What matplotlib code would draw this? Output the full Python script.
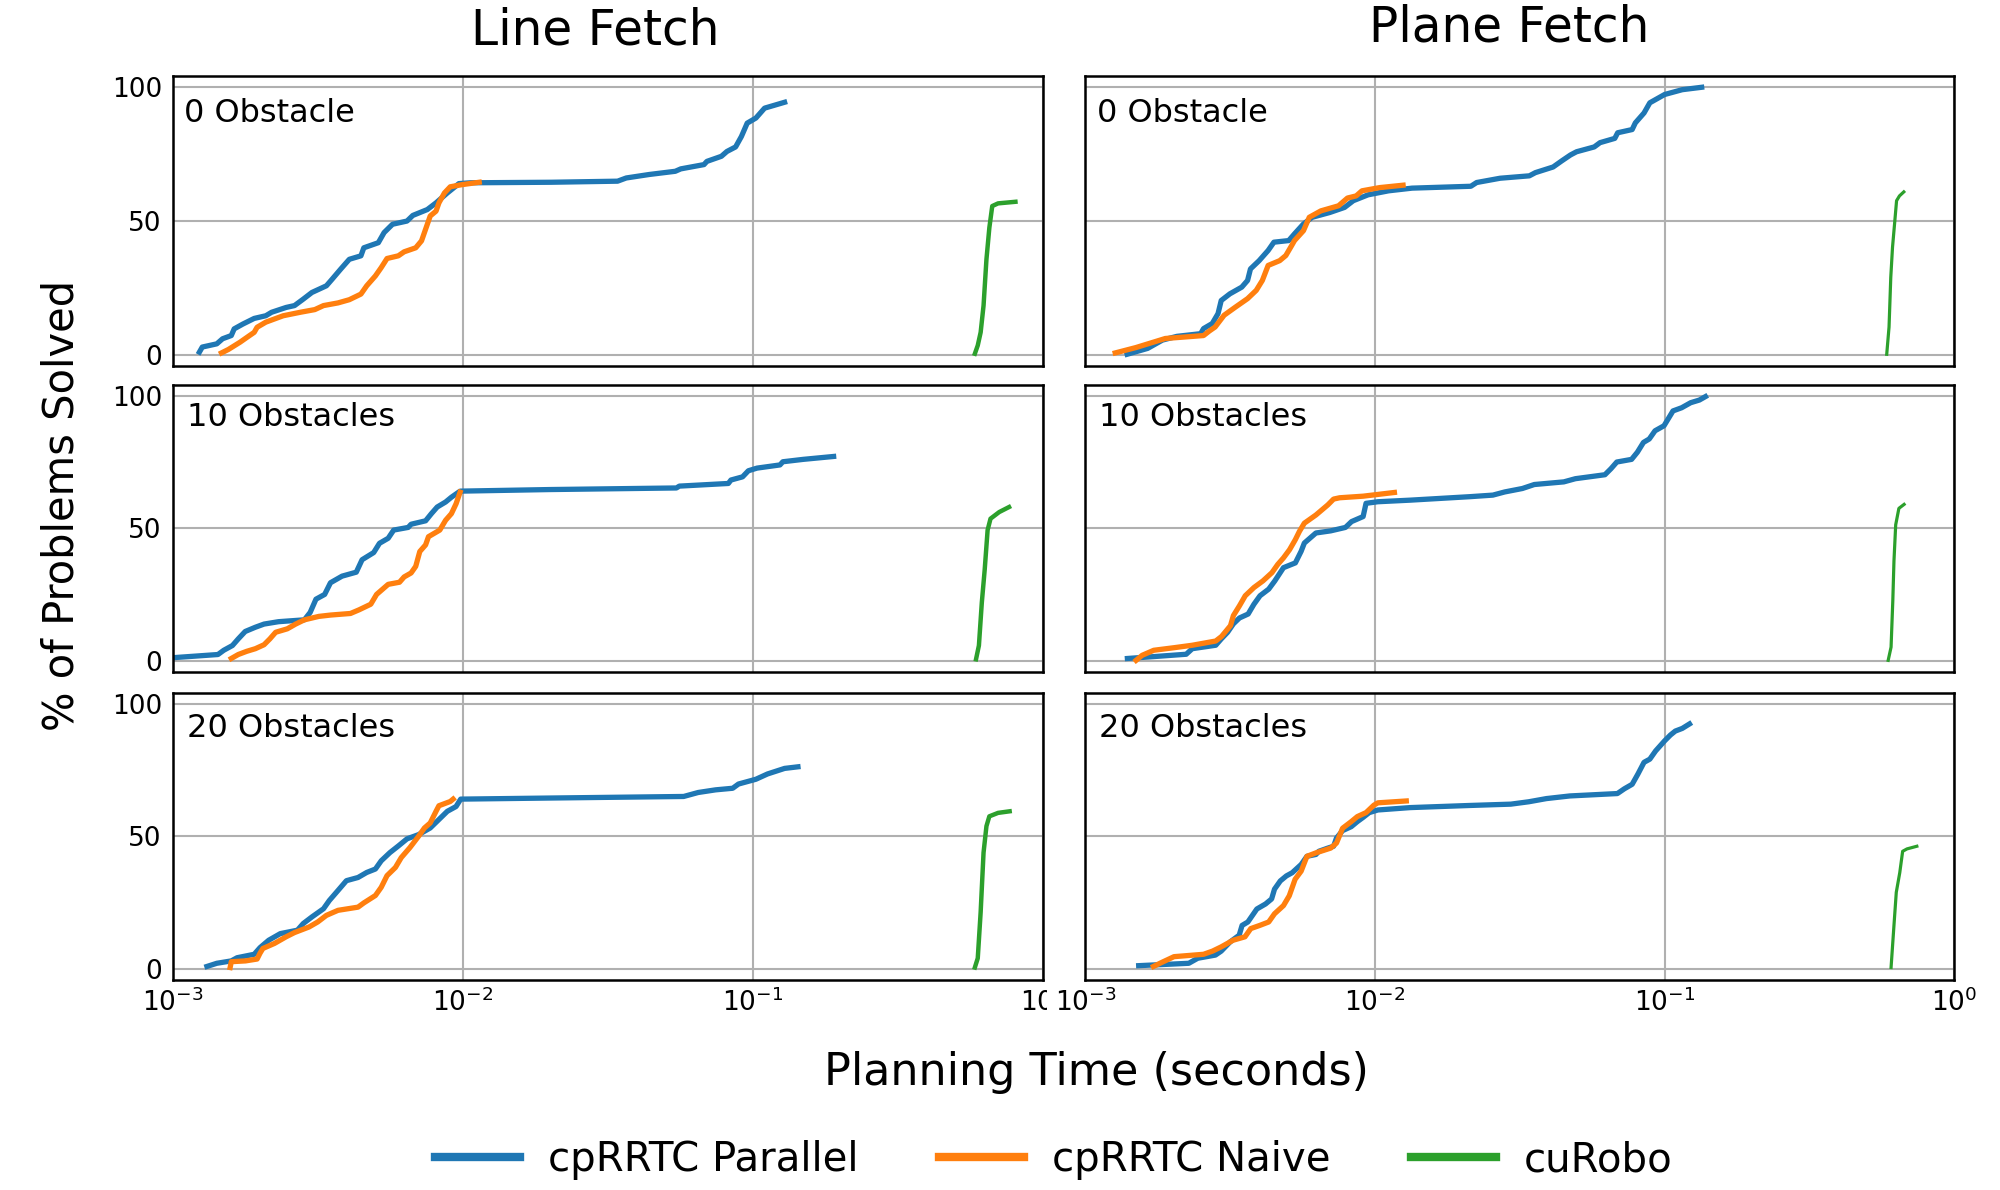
import numpy as np
import matplotlib
matplotlib.use("Agg")
import matplotlib.pyplot as plt
from matplotlib.transforms import Bbox

# times are stored as log10(seconds); values are % solved
line0_par_logt = [-2.909, -2.899, -2.849, -2.829, -2.799, -2.789, -2.759, -2.720, -2.680, -2.660,
                  -2.610, -2.581, -2.551, -2.521, -2.471, -2.451, -2.422, -2.392, -2.352, -2.342,
                  -2.292, -2.272, -2.243, -2.193, -2.173, -2.123, -2.093, -2.054, -2.014, -1.974,
                  -1.696, -1.467, -1.437, -1.358, -1.268, -1.249, -1.169, -1.159, -1.109, -1.090,
                  -1.060, -1.040, -1.020, -0.990, -0.960, -0.891]
line0_par_pct = [1.0, 2.9, 4.1, 6.0, 7.2, 9.7, 11.5, 13.6, 14.6, 15.9,
                 17.7, 18.4, 20.8, 23.3, 25.8, 28.3, 32.0, 35.7, 37.0, 40.0,
                 41.9, 45.7, 48.8, 50.0, 52.1, 54.3, 56.8, 60.5, 64.0, 64.3,
                 64.5, 64.9, 66.1, 67.4, 68.6, 69.5, 71.1, 72.3, 74.2, 76.0,
                 77.7, 81.6, 86.6, 88.5, 92.2, 94.4]
line0_nai_logt = [-2.833, -2.809, -2.769, -2.740, -2.720, -2.710, -2.680, -2.650, -2.620, -2.561,
                  -2.511, -2.481, -2.431, -2.392, -2.352, -2.332, -2.302, -2.282, -2.262, -2.223,
                  -2.203, -2.163, -2.143, -2.133, -2.113, -2.093, -2.083, -2.064, -2.044, -2.004, -1.944]
line0_nai_pct = [0.7, 2.0, 4.7, 6.9, 8.4, 10.3, 12.2, 13.4, 14.6, 15.9,
                 16.9, 18.4, 19.4, 20.6, 22.7, 25.8, 29.5, 32.6, 36.0, 37.0,
                 38.5, 40.0, 42.6, 45.7, 51.9, 53.7, 56.8, 60.5, 62.8, 63.6, 64.5]
line0_cur_logt = [-0.235, -0.225, -0.215, -0.205, -0.195, -0.185, -0.175, -0.155, -0.095]
line0_cur_pct = [0.4, 3.5, 8.4, 18.4, 35.7, 47.5, 55.6, 56.6, 57.2]

plane0_par_logt = [-2.856, -2.785, -2.734, -2.684, -2.602, -2.592, -2.562, -2.542, -2.531, -2.501,
                   -2.460, -2.440, -2.430, -2.400, -2.369, -2.349, -2.298, -2.278, -2.247, -2.217,
                   -2.156, -2.105, -2.075, -2.024, -1.953, -1.872, -1.669, -1.649, -1.568, -1.467,
                   -1.446, -1.385, -1.355, -1.325, -1.304, -1.243, -1.223, -1.172, -1.162, -1.112,
                   -1.101, -1.071, -1.051, -1.000, -0.939, -0.872]
plane0_par_pct = [0.2, 2.4, 5.5, 6.9, 7.9, 9.8, 11.7, 15.4, 20.3, 22.8,
                  25.3, 27.8, 32.1, 35.2, 39.0, 42.1, 42.7, 45.2, 48.9, 51.4,
                  53.2, 55.1, 57.6, 59.8, 61.3, 62.3, 63.0, 64.4, 66.0, 66.9,
                  68.1, 70.2, 72.5, 74.7, 75.9, 77.7, 79.3, 80.9, 83.0, 84.2,
                  86.7, 90.4, 94.2, 97.3, 99.1, 100.0]
plane0_nai_logt = [-2.897, -2.826, -2.724, -2.592, -2.572, -2.552, -2.521, -2.481, -2.440, -2.410,
                   -2.389, -2.369, -2.329, -2.308, -2.288, -2.278, -2.247, -2.227, -2.187, -2.126,
                   -2.095, -2.065, -2.045, -1.984, -1.903]
plane0_nai_pct = [0.7, 2.7, 6.1, 7.2, 8.9, 10.4, 14.8, 17.9, 21.0, 24.1,
                  27.8, 33.4, 35.2, 37.1, 40.8, 42.7, 46.4, 51.4, 53.8, 55.7,
                  58.6, 59.4, 61.3, 62.5, 63.4]
plane0_cur_logt = [-0.233, -0.225, -0.219, -0.213, -0.205, -0.199, -0.189, -0.174]
plane0_cur_pct = [0.2, 10.4, 29.0, 40.2, 50.1, 57.6, 59.4, 60.9]

line10_par_logt = [-3.0, -2.845, -2.825, -2.795, -2.775, -2.751, -2.716, -2.686, -2.636, -2.547,
                   -2.527, -2.507, -2.477, -2.457, -2.417, -2.368, -2.348, -2.308, -2.288, -2.258,
                   -2.239, -2.189, -2.179, -2.129, -2.109, -2.089, -2.060, -2.040, -2.010, -1.702,
                   -1.264, -1.254, -1.085, -1.076, -1.036, -1.016, -0.986, -0.907, -0.897, -0.827, -0.722]
line10_par_pct = [1.2, 2.4, 4.0, 5.8, 8.3, 11.1, 12.7, 13.9, 14.8, 15.5,
                  18.3, 23.3, 25.1, 29.5, 32.0, 33.5, 38.2, 40.9, 44.4, 46.3,
                  49.4, 50.4, 51.6, 52.9, 55.6, 58.1, 60.0, 61.8, 64.1, 64.7,
                  65.3, 66.0, 67.0, 68.3, 69.5, 71.8, 72.8, 74.0, 75.2, 76.1, 77.2]
line10_nai_logt = [-2.799, -2.775, -2.746, -2.716, -2.686, -2.666, -2.646, -2.606, -2.577, -2.547,
                   -2.497, -2.457, -2.388, -2.358, -2.318, -2.298, -2.278, -2.258, -2.219, -2.203,
                   -2.179, -2.163, -2.149, -2.129, -2.119, -2.080, -2.060, -2.040, -2.024, -2.010]
line10_nai_pct = [0.9, 2.4, 3.6, 4.6, 6.1, 8.3, 10.8, 12.1, 13.9, 15.5,
                  16.8, 17.3, 17.9, 19.3, 21.4, 25.1, 27.0, 28.9, 29.7, 31.7,
                  33.2, 35.7, 41.3, 43.8, 46.9, 49.4, 53.1, 55.6, 59.3, 63.7]
line10_cur_logt = [-0.231, -0.221, -0.211, -0.201, -0.191, -0.181, -0.151, -0.117]
line10_cur_pct = [0.6, 5.8, 22.0, 34.5, 49.4, 53.7, 56.2, 58.1]

plane10_par_logt = [-2.855, -2.652, -2.631, -2.550, -2.530, -2.509, -2.489, -2.468, -2.438, -2.418,
                    -2.397, -2.367, -2.346, -2.316, -2.275, -2.255, -2.244, -2.204, -2.153, -2.102,
                    -2.081, -2.041, -2.031, -1.990, -1.878, -1.674, -1.593, -1.552, -1.491, -1.450,
                    -1.348, -1.308, -1.206, -1.185, -1.165, -1.114, -1.094, -1.073, -1.053, -1.033,
                    -1.002, -0.971, -0.941, -0.910, -0.880, -0.859]
plane10_par_pct = [0.9, 2.5, 4.6, 5.9, 8.4, 10.8, 14.0, 16.2, 17.7, 21.4,
                   24.6, 27.1, 30.2, 35.2, 37.0, 41.4, 44.5, 48.3, 49.1, 50.4,
                   52.6, 54.5, 59.5, 60.1, 60.7, 62.0, 62.6, 63.8, 65.1, 66.6,
                   67.6, 68.8, 70.3, 72.6, 75.1, 76.1, 78.8, 82.5, 83.8, 86.9,
                   88.8, 94.4, 95.6, 97.5, 98.5, 99.8]
plane10_nai_logt = [-2.825, -2.804, -2.764, -2.692, -2.631, -2.550, -2.530, -2.499, -2.489, -2.468,
                    -2.448, -2.418, -2.387, -2.356, -2.336, -2.316, -2.295, -2.275, -2.261, -2.244,
                    -2.204, -2.163, -2.143, -2.122, -2.041, -1.933]
plane10_nai_pct = [0.2, 2.1, 4.0, 5.0, 5.9, 7.5, 9.2, 13.3, 17.1, 20.8,
                   24.6, 27.7, 30.2, 33.3, 36.4, 38.9, 42.0, 45.8, 48.9, 52.0,
                   55.1, 58.9, 61.1, 61.6, 62.2, 63.6]
plane10_cur_logt = [-0.228, -0.218, -0.212, -0.208, -0.202, -0.191, -0.173]
plane10_cur_pct = [0.2, 5.2, 22.7, 37.7, 51.4, 57.6, 59.1]

line20_par_logt = [-2.883, -2.849, -2.799, -2.779, -2.720, -2.700, -2.670, -2.630, -2.571, -2.551,
                   -2.521, -2.481, -2.461, -2.431, -2.402, -2.362, -2.332, -2.302, -2.282, -2.252,
                   -2.223, -2.193, -2.153, -2.113, -2.083, -2.054, -2.024, -2.008, -1.706, -1.239,
                   -1.189, -1.129, -1.070, -1.050, -0.990, -0.950, -0.891, -0.845]
line20_par_pct = [0.9, 2.1, 3.0, 4.2, 5.5, 8.0, 10.8, 13.3, 14.6, 17.1,
                  19.6, 22.7, 25.8, 29.6, 33.3, 34.5, 36.4, 37.7, 40.8, 43.9,
                  46.4, 49.1, 50.7, 53.2, 56.4, 59.5, 61.3, 64.1, 64.5, 65.1,
                  66.6, 67.6, 68.2, 69.8, 71.6, 73.6, 75.7, 76.3]
line20_nai_logt = [-2.803, -2.799, -2.750, -2.710, -2.700, -2.690, -2.650, -2.610, -2.581, -2.531,
                   -2.501, -2.471, -2.431, -2.362, -2.342, -2.302, -2.282, -2.262, -2.233, -2.213,
                   -2.183, -2.153, -2.133, -2.113, -2.093, -2.083, -2.044, -2.034]
line20_nai_pct = [0.5, 2.7, 3.0, 3.7, 5.9, 7.7, 9.6, 12.1, 13.7, 15.8,
                  17.7, 20.2, 22.1, 23.3, 24.9, 27.7, 30.8, 35.2, 38.3, 42.0,
                  45.8, 50.1, 53.2, 55.1, 59.5, 61.6, 63.2, 64.1]
line20_cur_logt = [-0.235, -0.225, -0.215, -0.205, -0.195, -0.185, -0.155, -0.115]
line20_cur_pct = [0.5, 4.0, 21.4, 43.9, 53.9, 57.6, 58.9, 59.5]

plane20_par_logt = [-2.816, -2.643, -2.612, -2.551, -2.531, -2.500, -2.469, -2.459, -2.439, -2.408,
                    -2.378, -2.357, -2.347, -2.327, -2.306, -2.286, -2.255, -2.235, -2.204, -2.194,
                    -2.163, -2.143, -2.133, -2.112, -2.082, -2.061, -2.041, -2.020, -1.990, -1.878,
                    -1.673, -1.531, -1.469, -1.408, -1.327, -1.163, -1.139, -1.112, -1.092, -1.071,
                    -1.051, -1.031, -1.000, -0.980, -0.963, -0.939, -0.914]
plane20_par_pct = [1.2, 2.1, 4.0, 5.2, 6.7, 10.2, 12.7, 16.4, 17.7, 22.6,
                   24.5, 26.4, 30.1, 33.2, 35.1, 36.3, 39.4, 42.5, 43.2, 44.4,
                   45.6, 46.3, 49.4, 52.2, 53.7, 55.6, 57.2, 59.0, 60.0, 60.9,
                   61.7, 62.2, 63.1, 64.3, 65.3, 66.2, 68.0, 69.7, 73.6, 78.0,
                   79.2, 82.3, 86.1, 88.3, 89.8, 90.8, 92.5]
plane20_nai_logt = [-2.765, -2.735, -2.694, -2.592, -2.561, -2.531, -2.490, -2.449, -2.429, -2.398,
                    -2.367, -2.347, -2.316, -2.296, -2.276, -2.255, -2.235, -2.204, -2.153, -2.133,
                    -2.112, -2.082, -2.061, -2.031, -2.004, -1.990, -1.892]
plane20_nai_pct = [0.9, 2.5, 4.6, 5.5, 6.7, 8.3, 10.8, 12.1, 15.2, 16.4,
                   17.7, 20.8, 23.9, 27.6, 33.8, 36.9, 42.5, 43.8, 45.6, 47.5,
                   53.1, 55.6, 57.5, 59.0, 61.8, 62.7, 63.4]
plane20_cur_logt = [-0.218, -0.208, -0.200, -0.188, -0.178, -0.163, -0.129]
plane20_cur_pct = [0.5, 16.4, 28.9, 36.3, 44.4, 45.3, 46.3]

col_titles = ["Line Fetch", "Plane Fetch"]
row_labels = ["0 Obstacle", "10 Obstacles", "20 Obstacles"]
series_names = ["cpRRTC Parallel", "cpRRTC Naive", "cuRobo"]
colors = ["#1f77b4", "#ff7f0e", "#2ca02c"]
xtick_vals = [1e-3, 1e-2, 1e-1, 1e0]
xtick_labels = [r"$10^{-3}$", r"$10^{-2}$", r"$10^{-1}$", r"$10^{0}$"]
ytick_vals = [0, 50, 100]

panels = {
    (0, 0): [(line0_par_logt, line0_par_pct), (line0_nai_logt, line0_nai_pct), (line0_cur_logt, line0_cur_pct)],
    (0, 1): [(plane0_par_logt, plane0_par_pct), (plane0_nai_logt, plane0_nai_pct), (plane0_cur_logt, plane0_cur_pct)],
    (1, 0): [(line10_par_logt, line10_par_pct), (line10_nai_logt, line10_nai_pct), (line10_cur_logt, line10_cur_pct)],
    (1, 1): [(plane10_par_logt, plane10_par_pct), (plane10_nai_logt, plane10_nai_pct), (plane10_cur_logt, plane10_cur_pct)],
    (2, 0): [(line20_par_logt, line20_par_pct), (line20_nai_logt, line20_nai_pct), (line20_cur_logt, line20_cur_pct)],
    (2, 1): [(plane20_par_logt, plane20_par_pct), (plane20_nai_logt, plane20_nai_pct), (plane20_cur_logt, plane20_cur_pct)],
}

fig = plt.figure(figsize=(20, 11.9), dpi=100)

col_x = [(0.0865, 0.435), (0.5427, 0.4344)]
row_y = [(0.6924, 0.2437), (0.4353, 0.2412), (0.1765, 0.2412)]
label_y = [0.925, 0.94, 0.93]

handles = []
for (r, c), series in panels.items():
    x0, w = col_x[c]
    y0, h = row_y[r]
    ax = fig.add_axes([x0, y0, w, h])
    for i, (logt, pct) in enumerate(series):
        lw = 3.8
        if i == 2:
            lw = 3.2 if c == 0 else 2.3
        ln, = ax.plot(10 ** np.array(logt), pct, color=colors[i], lw=lw, label=series_names[i])
        if r == 0 and c == 0:
            handles.append(ln)
    ax.set_xscale("log")
    ax.set_xlim(1e-3, 1e0)
    ax.set_ylim(-4.2, 104.2)
    ax.minorticks_off()
    ax.grid(True, color="#b0b0b0", linewidth=1.5)
    ax.set_axisbelow(True)
    for sp in ax.spines.values():
        sp.set_linewidth(1.8)
        sp.set_color("black")
    ax.set_yticks(ytick_vals)
    ax.set_xticks(xtick_vals)
    ax.tick_params(axis="both", length=0, labelsize=19)
    ax.tick_params(axis="y", pad=8)
    ax.tick_params(axis="x", pad=6)
    if c == 0:
        ax.set_yticklabels([str(v) for v in ytick_vals])
    else:
        ax.set_yticklabels([])
    if r == 2:
        ax.set_xticklabels(xtick_labels)
        if c == 0:
            # the left chart is cut off at its right edge in the source image
            lab = ax.xaxis.get_major_ticks()[3].label1
            lab.set_clip_box(Bbox([[0, 0], [1047, 1190]]))
            lab.set_clip_on(True)
    else:
        ax.set_xticklabels([])
    ax.text(0.016 if r else 0.013, label_y[r], row_labels[r], transform=ax.transAxes,
            fontsize=23, va="top", ha="left")

fig.text(0.2975, 0.974, col_titles[0], fontsize=35, ha="center", va="center")
fig.text(0.7545, 0.977, col_titles[1], fontsize=35, ha="center", va="center")
fig.text(0.031, 0.575, "% of Problems Solved", fontsize=30, rotation=90,
         ha="center", va="center")
fig.text(0.548, 0.099, "Planning Time (seconds)", fontsize=32, ha="center", va="center")

fig.legend(handles, series_names, loc="center", bbox_to_anchor=(0.527, 0.025), ncol=3,
           frameon=False, fontsize=29, handlelength=2.1, handletextpad=0.7,
           columnspacing=2.0)
for lh in fig.legends[0].get_lines():
    lh.set_linewidth(6)

fig.savefig("out.png", dpi=100)
